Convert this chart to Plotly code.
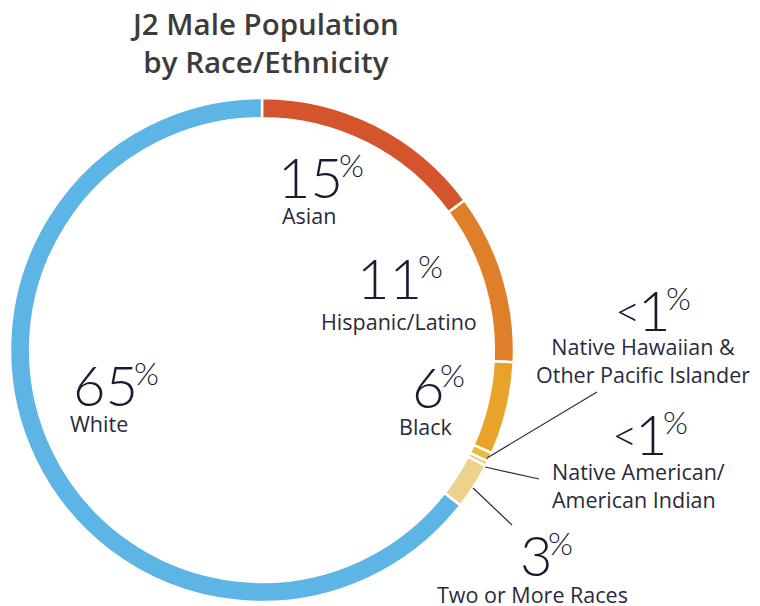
import plotly.graph_objects as go

# The page body has an 8px margin; work in reference pixel coordinates
OFF = 8
W, H = 752, 598

categories = ["Asian", "Hispanic/Latino", "Black",
              "Native Hawaiian & Other Pacific Islander",
              "Native American/American Indian",
              "Two or More Races", "White"]
values = [15, 11, 6, 0.6, 0.3, 3, 65]
value_labels = ["15", "11", "6", "<1", "<1", "3", "65"]
colors = ["#D4552B", "#E07F2A", "#E8A42A", "#E9BD3C", "#EBCB6E", "#EBD38C", "#5DB5E5"]

def px(x, y):
    return (x - OFF) / W, 1 - (y - OFF) / H

fig = go.Figure()
cx, cy, r = 262, 350, 252
x0, y1 = px(cx - r, cy - r)
x1, y0 = px(cx + r, cy + r)
fig.add_trace(go.Pie(
    labels=categories, values=values, sort=False, direction="clockwise",
    rotation=0, hole=0.92, textinfo="none", hoverinfo="label+value",
    marker=dict(colors=colors, line=dict(color="white", width=2.5)),
    domain=dict(x=[x0, x1], y=[y0, y1]), showlegend=False,
))

NUM = dict(family="Lato", size=56, color="#1B1B2F", weight=300)
LT = dict(family="Lato", size=44, color="#1B1B2F", weight=300)
PCT = dict(family="Lato", size=32, color="#1B1B2F", weight=300)
LAB = dict(family="Open Sans", size=21.5, color="#2A2A3A")

# (number text, number right edge x, number center y, label text, label x, label y, label anchor)
label_specs = [
    (value_labels[0], 345, 176, "Asian", 309, 215, "center"),
    (value_labels[1], 424, 278, "Hispanic/Latino", 399, 321, "center"),
    (value_labels[2], 446, 386, "Black", 426, 426, "center"),
    (value_labels[3], 672, 309, "Native Hawaiian &<br>Other Pacific Islander", 643, 360, "center"),
    (value_labels[4], 669, 433, "Native American/<br>American Indian", 550, 485, "left"),
    (value_labels[5], 554, 554, "Two or More Races", 532, 594, "center"),
    (value_labels[6], 140, 384, "White", 99, 423, "center"),
]

anns = []
for num, nx, ny, lab, lx, ly, la in label_specs:
    digits = num.lstrip("<")
    ax, ay = px(nx, ny)
    anns.append(dict(text=digits, x=ax, y=ay, xref="paper", yref="paper",
                     xanchor="right", yanchor="middle", showarrow=False, font=NUM))
    if num.startswith("<"):
        lx_, ly_ = px(nx - 29, ny + 1)
        anns.append(dict(text="&lt;", x=lx_, y=ly_, xref="paper", yref="paper",
                         xanchor="right", yanchor="middle", showarrow=False, font=LT))
    qx, qy = px(nx - 8, ny - 12)
    anns.append(dict(text="%", x=qx, y=qy, xref="paper", yref="paper",
                     xanchor="left", yanchor="middle", showarrow=False, font=PCT))
    bx, by = px(lx, ly)
    anns.append(dict(text=lab, x=bx, y=by, xref="paper", yref="paper",
                     xanchor=la, yanchor="middle", showarrow=False, align=la,
                     font=LAB))

tx, ty = px(264, 43)
anns.append(dict(text="J2 Male Population<br>by Race/Ethnicity", x=tx, y=ty,
                 xref="paper", yref="paper", xanchor="center", yanchor="middle",
                 showarrow=False, align="center",
                 font=dict(family="Open Sans", size=29.5, color="#3C3C3C", weight=600)))

leaders = [((487, 458), (597, 392)), ((485, 467), (539, 479)), ((473, 488), (512, 525))]
shapes = []
for (ax0, ay0), (ax1, ay1) in leaders:
    a, b = px(ax0, ay0)
    c, d = px(ax1, ay1)
    shapes.append(dict(type="line", xref="paper", yref="paper", x0=a, y0=b, x1=c, y1=d,
                       line=dict(color="#2A2A3A", width=1.2)))

fig.update_layout(width=W, height=H, margin=dict(l=0, r=0, t=0, b=0),
                  paper_bgcolor="white", plot_bgcolor="white",
                  annotations=anns, shapes=shapes)
fig.write_html("out.html")
